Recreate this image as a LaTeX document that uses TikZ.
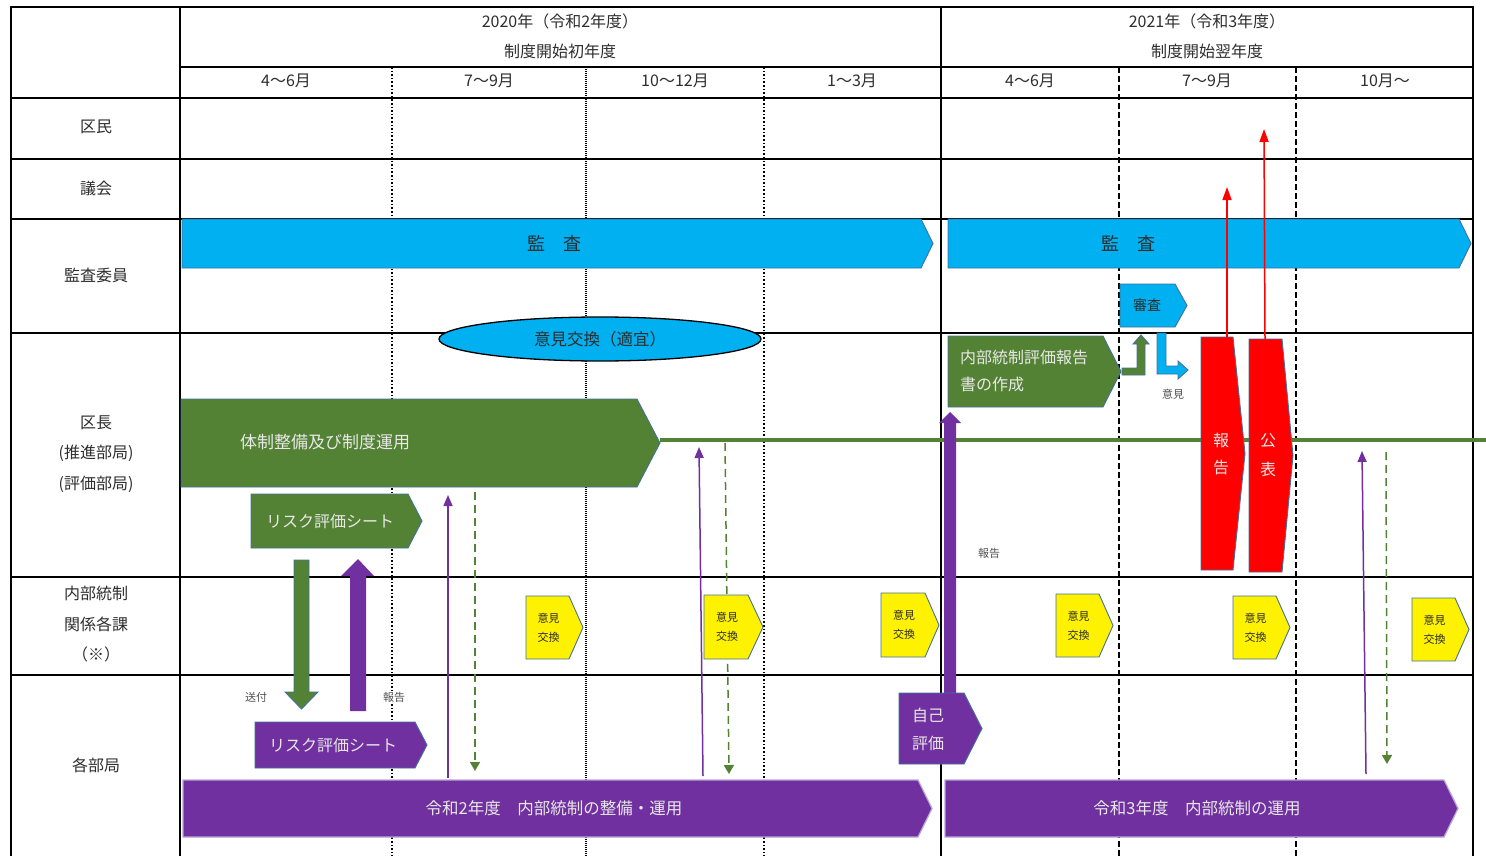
\documentclass[tikz,border=0pt]{standalone}
\usepackage{fontspec}
\setmainfont{Noto Sans CJK JP}
\usetikzlibrary{arrows.meta}
\definecolor{cyanb}{RGB}{0,176,240}
\definecolor{grn}{RGB}{84,130,53}
\definecolor{prp}{RGB}{112,48,160}
\definecolor{olb}{RGB}{65,113,156}
\definecolor{lav}{RGB}{185,165,215}
\definecolor{txt}{RGB}{45,45,45}
\definecolor{lt}{RGB}{232,232,232}
\definecolor{smt}{RGB}{80,80,80}
\newcommand\fs[2]{\fontsize{#1}{#2}\selectfont}
\newcommand\pentshape[6]{\path[#1] (#2,#3) -- (#4,#3) -- (#6,{(#3+#5)/2}) -- (#4,#5) -- (#2,#5) -- cycle;}
\begin{document}
\begin{tikzpicture}[x=1pt,y=-1pt,
  gridline/.style={line width=2pt,black},
  dotline/.style={line width=2.2pt,black,dash pattern=on 1pt off 1pt},
  dotline2/.style={line width=1.6pt,black,dash pattern=on 1.6pt off 2pt},
  dashline/.style={line width=2pt,black,dash pattern=on 6pt off 3pt},
  lbl/.style={font=\fs{16}{30.5},text=txt,align=center,inner sep=0},
  cyanshape/.style={fill=cyanb,draw=olb,line width=0.9pt},
  grnshape/.style={fill=grn,draw=olb,line width=0.9pt},
  prpshape/.style={fill=prp,draw=olb,line width=0.9pt},
  prpbar/.style={fill=prp,draw=lav,line width=1.2pt},
  redshape/.style={fill=red,draw=olb,line width=0.9pt},
  ylwshape/.style={fill=yellow,draw=olb,line width=0.9pt},
  dk/.style={text=txt,inner sep=0,align=center},
  wt/.style={text=lt,inner sep=0,align=center},
  small/.style={font=\fs{11}{13},text=smt,inner sep=0},
  ylwtext/.style={font=\fs{11}{19},text=txt,inner sep=0,align=center},
  thinp/.style={draw=prp,line width=1.5pt,-{Triangle[width=9pt,length=11pt]}},
  gdash/.style={draw=grn,line width=1.5pt,dash pattern=on 8pt off 5pt,-{Triangle[width=10pt,length=9pt]}},
  redarr/.style={draw=red,line width=1.5pt,-{Triangle[width=9pt,length=13pt]}}
]
\useasboundingbox (0,0) rectangle (1486,856);
% ---------- grid ----------
\draw[dotline2] (392,67) -- (392,856);
\draw[dotline] (586,67) -- (586,856);
\draw[dotline2] (764,67) -- (764,856);
\draw[dashline] (1119,67) -- (1119,856);
\draw[dashline] (1296,67) -- (1296,856);
\draw[gridline] (11,856) -- (11,7) -- (1473,7) -- (1473,856);
\draw[gridline] (180,7) -- (180,856);
\draw[gridline] (941,7) -- (941,856);
\draw[gridline] (180,67) -- (1473,67);
\foreach \yy in {98,159,219,333,577,675}{\draw[gridline] (11,\yy) -- (1473,\yy);}
% ---------- header ----------
\node[lbl,font=\fs{16}{30}] (yr1) at (560,36) {2020年（令和2年度）\\制度開始初年度};
\node[lbl,font=\fs{16}{30}] (yr2) at (1207,36) {2021年（令和3年度）\\制度開始翌年度};
\node[lbl] (m1) at (286,81) {4～6月};
\node[lbl] (m2) at (489,81) {7～9月};
\node[lbl] (m3) at (675,81) {10～12月};
\node[lbl] (m4) at (852,81) {1～3月};
\node[lbl] (m5) at (1030,81) {4～6月};
\node[lbl] (m6) at (1207,81) {7～9月};
\node[lbl] (m7) at (1385,81) {10月～};
% ---------- row labels ----------
\node[lbl] (r1) at (96,127) {区民};
\node[lbl] (r2) at (96,188) {議会};
\node[lbl] (r3) at (96,275) {監査委員};
\node[lbl] (r4) at (96,454) {区長\\(推進部局)\\(評価部局)};
\node[lbl] (r5) at (96,624.5) {内部統制\\関係各課\\（※）};
\node[lbl] (r6) at (96,765) {各部局};
% ---------- audit row ----------
\pentshape{cyanshape}{182}{219}{921}{268}{933}
\node[dk,font=\fs{18}{18}] (kansa1) at (554,243) {監　査};
\pentshape{cyanshape}{948}{219}{1459}{268}{1471}
\node[dk,font=\fs{18}{18}] (kansa2) at (1128,243) {監　査};
\pentshape{cyanshape}{1120}{284}{1175}{327}{1187}
\node[dk,font=\fs{14}{14}] (shinsa) at (1147,305) {審査};
% ---------- ellipse ----------
\draw[fill=cyanb,line width=1.3pt] (600,339) ellipse [x radius=161,y radius=22];
\node[dk,font=\fs{16.5}{16.5}] (iken) at (600,339) {意見交換（適宜）};
% ---------- green line ----------
\coordinate (gl1) at (660,440);
\coordinate (gl2) at (1486,440);
\draw[grn,line width=3.5pt] (gl1) -- (gl2);
% ---------- green shapes ----------
\pentshape{grnshape}{181}{399}{637}{487}{660}
\node[wt,font=\fs{17}{17}] (taisei) at (325,442) {体制整備及び制度運用};
\pentshape{grnshape}{251}{494}{408}{548}{422}
\node[wt,font=\fs{16}{16}] (risk1) at (330,521) {リスク評価シート};
\pentshape{grnshape}{948}{336}{1103}{407}{1121}
\node[wt,font=\fs{16}{27},align=left,anchor=west] (hyoka) at (960,370.5) {内部統制評価報告\\書の作成};
% bent arrows
\path[grnshape] (1122,368) -- (1137,368) -- (1137,344) -- (1133,344) -- (1141,335) -- (1149,344) -- (1145,344) -- (1145,375) -- (1122,375) -- cycle;
\path[cyanshape] (1157,333) -- (1166,333) -- (1166,366) -- (1178,366) -- (1178,361) -- (1188,370) -- (1178,379) -- (1178,374) -- (1157,374) -- cycle;
\node[small] (iken2) at (1173,394) {意見};
% ---------- big block arrows ----------
\path[grnshape] (294,560) -- (309,560) -- (309,692) -- (318,692) -- (301.5,709) -- (285,692) -- (294,692) -- cycle;
\path[fill=prp] (350,711) -- (366,711) -- (366,576) -- (374,576) -- (358,559) -- (341,576) -- (350,576) -- cycle;
\node[small] (sofu) at (256,697) {送付};
\node[small,fill=white,inner sep=1pt] (hokoku1) at (394,697) {報告};
\path[fill=prp] (944,694) -- (956,694) -- (956,423) -- (961,423) -- (950,412) -- (939,423) -- (944,423) -- cycle;
\node[small] (hokoku2) at (989,553) {報告};
% ---------- purple shapes ----------
\pentshape{prpshape}{255}{722}{415}{768}{427}
\node[wt,font=\fs{16}{16}] (risk2) at (333,745) {リスク評価シート};
\pentshape{prpshape}{899}{693}{964}{764}{982}
\node[wt,font=\fs{16}{28},align=left,anchor=west] (jiko) at (912,729) {自己\\評価};
\pentshape{prpbar}{183}{780}{918}{837}{932}
\node[wt,font=\fs{16.5}{16.5}] (bar1) at (554,808) {令和2年度　内部統制の整備・運用};
\pentshape{prpbar}{945}{780}{1444}{837}{1458}
\node[wt,font=\fs{16.5}{16.5}] (bar2) at (1197,808) {令和3年度　内部統制の運用};
% ---------- red shapes ----------
\pentshape{redshape}{1201}{337}{1233}{570}{1245}
\node[wt,font=\fs{16}{27}] (rep) at (1221,453.5) {報\\告};
\pentshape{redshape}{1249}{339}{1282}{572}{1293}
\node[wt,font=\fs{16}{29}] (pub) at (1268,455.5) {公\\表};
\coordinate (ra1) at (1227,337);
\coordinate (ra1e) at (1227,187);
\coordinate (ra2) at (1265,339);
\coordinate (ra2e) at (1264,129);
\draw[redarr] (ra1) -- (ra1e);
\draw[redarr] (ra2) -- (ra2e);
% ---------- thin arrows ----------
\coordinate (pa1) at (448,778); \coordinate (pa1e) at (448,495);
\coordinate (pa2) at (703,776); \coordinate (pa2e) at (699,447);
\coordinate (pa3) at (1366,774); \coordinate (pa3e) at (1362,451);
\draw[thinp] (pa1) -- (pa1e);
\draw[thinp] (pa2) -- (pa2e);
\draw[thinp] (pa3) -- (pa3e);
\coordinate (ga1) at (475,492); \coordinate (ga1e) at (475,771);
\coordinate (ga2) at (725,443); \coordinate (ga2e) at (729,774);
\coordinate (ga3) at (1386,452); \coordinate (ga3e) at (1387,764);
\draw[gdash] (ga1) -- (ga1e);
\draw[gdash] (ga2) -- (ga2e);
\draw[gdash] (ga3) -- (ga3e);
% ---------- yellow exchange ----------
\foreach \xa/\ya/\xb/\yb/\xp/\nm in {526/596/569/659/583/y1,704/595/748/659/763/y2,881/593/925/657/939/y3,1056/594/1099/657/1113/y4,1233/596/1276/659/1290/y5,1412/598/1455/661/1469/y6}{
  \pentshape{ylwshape}{\xa}{\ya}{\xb}{\yb}{\xp}
  \node[ylwtext] (\nm) at ({(\xa+\xb)/2+1},{(\ya+\yb)/2}) {意見\\交換};
}
\end{tikzpicture}
\end{document}
